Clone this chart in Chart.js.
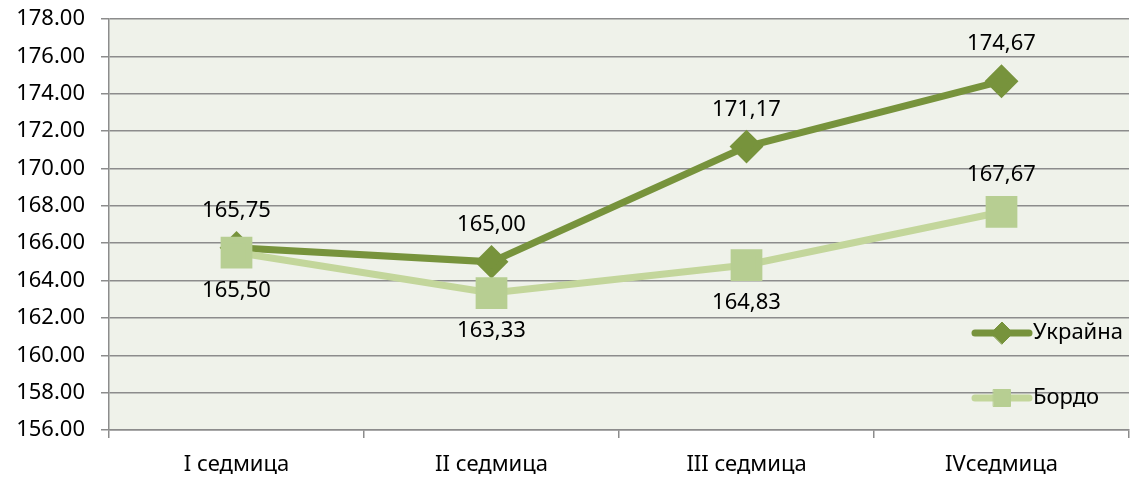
<!DOCTYPE html>
<html>
<head>
<meta charset="utf-8">
<script src="https://cdn.jsdelivr.net/npm/chart.js@4"></script>
<style>
  html,body{margin:0;padding:0;background:#fff;}
  #wrap{width:1134px;height:479px;}
</style>
</head>
<body>
<div id="wrap"><canvas id="chart" width="1134" height="479"></canvas></div>
<script>
/* données */
const weeks = ["I седмица","II седмица","III седмица","IVседмица"];
const ukraina = [165.75, 165.00, 171.17, 174.67];
const bordo   = [165.50, 163.33, 164.83, 167.67];
const ukrainaPos = ["above","above","above","above"];
const bordoPos   = ["below","below","below","above"];

const FONT = "'Noto Sans', 'Open Sans', sans-serif";
const GRID = "#8c8c8c";
const C_UKR = "#77933C";
const C_BOR = "#C3D69B";
const C_BOR_PT = "#B7CE92";

/* fond de la zone de tracé */
const plotBg = {
  id:"plotBg",
  beforeDraw(chart){
    const {ctx, chartArea:a} = chart;
    ctx.save();
    ctx.fillStyle = "#EFF2EA";
    ctx.fillRect(a.left, a.top, a.right-a.left, a.bottom-a.top);
    ctx.restore();
  }
};

/* étiquettes de valeurs (virgule décimale) */
const valueLabels = {
  id:"valueLabels",
  afterDatasetsDraw(chart){
    const ctx = chart.ctx;
    const places = [ukrainaPos, bordoPos];
    ctx.save();
    ctx.font = "22px " + FONT;
    ctx.fillStyle = "#000";
    ctx.textAlign = "center";
    ctx.textBaseline = "middle";
    chart.data.datasets.forEach((ds, i)=>{
      chart.getDatasetMeta(i).data.forEach((pt, j)=>{
        const txt = ds.data[j].toFixed(2).replace(".", ",");
        const dy = places[i][j] === "above" ? -37 : 38;
        ctx.fillText(txt, pt.x, pt.y + dy);
      });
    });
    ctx.restore();
  }
};

/* légende dans la zone de tracé, à droite */
const insideLegend = {
  id:"insideLegend",
  afterDatasetsDraw(chart){
    const ctx = chart.ctx;
    const items = [
      {label:"Украйна", line:C_UKR, pt:C_UKR, style:"rectRot", r:11, y:333},
      {label:"Бордо",   line:C_BOR, pt:C_BOR_PT, style:"rect", r:12, y:398}
    ];
    ctx.save();
    items.forEach(it=>{
      ctx.strokeStyle = it.line;
      ctx.lineWidth = 7;
      ctx.lineCap = "round";
      ctx.beginPath(); ctx.moveTo(975, it.y); ctx.lineTo(1029, it.y); ctx.stroke();
      ctx.fillStyle = it.pt;
      ctx.strokeStyle = it.pt;
      ctx.lineWidth = 1;
      Chart.helpers.drawPoint(ctx, {pointStyle:it.style, radius:it.r, borderWidth:1}, 1002, it.y);
      ctx.fillStyle = "#000";
      ctx.font = "22px " + FONT;
      ctx.textAlign = "left";
      ctx.textBaseline = "middle";
      ctx.fillText(it.label, 1033, it.y);
    });
    ctx.restore();
  }
};

new Chart(document.getElementById("chart").getContext("2d"), {
  type:"line",
  data:{
    labels: weeks,
    datasets:[
      { label:"Украйна", data:ukraina, order:1, borderColor:C_UKR, backgroundColor:C_UKR,
        borderWidth:7, pointStyle:"rectRot", pointRadius:12, pointBackgroundColor:C_UKR,
        pointBorderColor:C_UKR, tension:0, fill:false },
      { label:"Бордо", data:bordo, order:0, borderColor:C_BOR, backgroundColor:C_BOR_PT,
        borderWidth:7, pointStyle:"rect", pointRadius:17.5, pointBackgroundColor:C_BOR_PT,
        pointBorderColor:C_BOR_PT, tension:0, fill:false }
    ]
  },
  options:{
    responsive:false,
    animation:false,
    layout:{ autoPadding:false, padding:{ top:19, right:5, left:0, bottom:0 } },
    plugins:{ legend:{display:false}, tooltip:{enabled:false} },
    scales:{
      x:{
        offset:true,
        grid:{ offset:true, drawOnChartArea:false, color:GRID, tickLength:8, lineWidth:1.5 },
        border:{ color:GRID, width:1.5 },
        ticks:{ color:"#000", font:{family:FONT, size:22}, padding:14 },
        afterFit(s){ s.height = 49; s.paddingLeft = 0; s.paddingRight = 0; }
      },
      y:{
        min:156, max:178,
        grid:{ color:GRID, tickLength:8, lineWidth:1.5 },
        border:{ color:GRID, width:1.5 },
        ticks:{ stepSize:2, color:"#000", font:{family:FONT, size:22}, padding:16,
                callback:(v)=>Number(v).toFixed(2) },
        afterFit(s){ s.width = 109; s.paddingTop = 0; s.paddingBottom = 0; }
      }
    }
  },
  plugins:[plotBg, valueLabels, insideLegend]
});
</script>
</body>
</html>
